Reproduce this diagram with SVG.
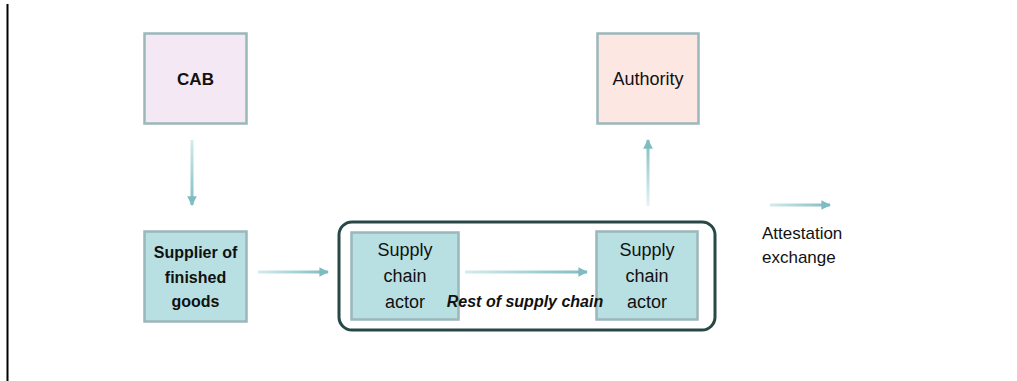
<svg xmlns="http://www.w3.org/2000/svg" width="1017" height="381" viewBox="0 0 1017 381">
<style>
.box{stroke:#9ab7ba;stroke-width:2.5}
.t{font-family:"Liberation Sans",Arial,sans-serif;fill:#111;text-anchor:middle}
.conn{fill:none;stroke-width:3}
</style>
<defs>
<marker id="ah" viewBox="0 0 10 10" refX="9" refY="5" markerWidth="3.4" markerHeight="3.2" orient="auto" markerUnits="strokeWidth">
<path d="M0,0 L10,5 L0,10 z" fill="#7fbcc1"/>
</marker>
<linearGradient id="gd" gradientUnits="userSpaceOnUse" x1="0" y1="140" x2="0" y2="205"><stop offset="0" stop-color="#d4ebec"/><stop offset="1" stop-color="#7fbcc1"/></linearGradient>
<linearGradient id="gr1" gradientUnits="userSpaceOnUse" x1="258" y1="0" x2="328" y2="0"><stop offset="0" stop-color="#d4ebec"/><stop offset="1" stop-color="#7fbcc1"/></linearGradient>
<linearGradient id="gr2" gradientUnits="userSpaceOnUse" x1="465" y1="0" x2="587" y2="0"><stop offset="0" stop-color="#d4ebec"/><stop offset="1" stop-color="#7fbcc1"/></linearGradient>
<linearGradient id="gu" gradientUnits="userSpaceOnUse" x1="0" y1="206" x2="0" y2="140"><stop offset="0" stop-color="#e6f3f4"/><stop offset="1" stop-color="#7fbcc1"/></linearGradient>
<linearGradient id="gl" gradientUnits="userSpaceOnUse" x1="770" y1="0" x2="830" y2="0"><stop offset="0" stop-color="#d4ebec"/><stop offset="1" stop-color="#7fbcc1"/></linearGradient>
</defs>
<rect width="1017" height="381" fill="#fff"/>
<line x1="7.5" y1="4" x2="7.5" y2="381" stroke="#000" stroke-width="2"/>

<g id="group">
<rect x="339" y="222" width="376" height="108" rx="13" fill="none" stroke="#284848" stroke-width="3"/>
</g>

<g id="cab">
<rect class="box" x="144.5" y="33.5" width="102" height="90" fill="#f3e8f3"/>
<text class="t" x="195.5" y="85" font-size="17" font-weight="bold">CAB</text>
</g>

<g id="authority">
<rect class="box" x="597.5" y="33.5" width="101" height="90" fill="#fde7e2"/>
<text class="t" x="648" y="85" font-size="18">Authority</text>
</g>

<g id="supplier">
<rect class="box" x="144.5" y="231.5" width="102" height="90" fill="#b8dfe1"/>
<text class="t" font-size="16" font-weight="bold"><tspan x="195.5" y="258">Supplier of</tspan><tspan x="195.5" y="283">finished</tspan><tspan x="195.5" y="307">goods</tspan></text>
</g>

<g id="actor1">
<rect class="box" x="351.5" y="232.5" width="107" height="87" fill="#b8dfe1"/>
<text class="t" font-size="18"><tspan x="405" y="256">Supply</tspan><tspan x="405" y="282">chain</tspan><tspan x="405" y="308">actor</tspan></text>
</g>

<g id="actor2">
<rect class="box" x="596.5" y="231.5" width="101" height="88" fill="#b8dfe1"/>
<text class="t" font-size="18"><tspan x="647" y="256">Supply</tspan><tspan x="647" y="282">chain</tspan><tspan x="647" y="308">actor</tspan></text>
</g>

<g id="connectors">
<path class="conn" d="M192,140 V205" stroke="url(#gd)" marker-end="url(#ah)"/>
<path class="conn" d="M258,272 H328" stroke="url(#gr1)" marker-end="url(#ah)"/>
<path class="conn" d="M465,272 H587" stroke="url(#gr2)" marker-end="url(#ah)"/>
<path class="conn" d="M648,206 V140" stroke="url(#gu)" marker-end="url(#ah)"/>
</g>

<text class="t" x="525" y="307" font-size="16" font-weight="bold" font-style="italic">Rest of supply chain</text>

<g id="legend">
<path class="conn" d="M770,205 H830" stroke="url(#gl)" marker-end="url(#ah)"/>
<text font-family="'Liberation Sans',Arial,sans-serif" font-size="17" fill="#111"><tspan x="762" y="239">Attestation</tspan><tspan x="762" y="263">exchange</tspan></text>
</g>
</svg>
